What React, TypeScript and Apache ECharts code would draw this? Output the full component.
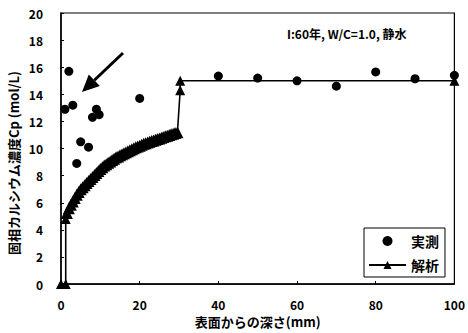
import React, { useEffect, useRef } from "react";
import * as echarts from "echarts";

// 実測: measured solid-phase calcium concentration vs. depth
const measuredDepth = [1, 2, 3, 4, 5, 7, 8, 9, 9.7, 20, 40, 50, 60, 70, 80, 90, 100];
const measuredCa = [12.9, 15.7, 13.2, 8.9, 10.5, 10.1, 12.3, 12.9, 12.5, 13.7, 15.35, 15.2, 15.0, 14.6, 15.65, 15.15, 15.4];

// 解析: analytical profile (fine depth steps through the leached zone)
const calcDepth = [
  0, 1.2, 1.2, 1.5, 2, 2.5, 3, 3.5, 4, 4.5, 5, 5.5, 6, 6.5, 7, 7.5, 8, 8.5, 9, 9.5, 10, 10.5, 11,
  11.5, 12, 12.5, 13, 13.5, 14, 14.5, 15, 15.5, 16, 16.5, 17, 17.5, 18, 18.5, 19, 19.5, 20, 20.5,
  21, 21.5, 22, 22.5, 23, 23.5, 24, 24.5, 25, 25.5, 26, 26.5, 27, 27.5, 28, 28.5, 29, 29.6, 30.3,
  30.3, 100,
];
const calcCa = [
  0, 0, 4.8, 5.25, 5.6, 5.85, 6.1, 6.35, 6.6, 6.8, 7.0, 7.15, 7.3, 7.45, 7.6, 7.75, 7.9, 8.05, 8.2,
  8.35, 8.5, 8.62, 8.75, 8.85, 8.95, 9.05, 9.15, 9.25, 9.35, 9.42, 9.5, 9.58, 9.65, 9.72, 9.8, 9.88,
  9.95, 10.02, 10.1, 10.15, 10.2, 10.28, 10.35, 10.4, 10.45, 10.5, 10.55, 10.6, 10.65, 10.7, 10.75,
  10.8, 10.85, 10.9, 10.95, 11.0, 11.05, 11.1, 11.15, 11.2, 14.3, 15.0, 15.0,
];

const yMin = 0;
const yMax = 20;
const yStep = 2;
const xMin = 0;
const xMax = 100;
const xStep = 20;

const FONT = "'Noto Sans CJK JP', 'Noto Sans', sans-serif";

export default function App() {
  const ref = useRef<HTMLDivElement>(null);

  useEffect(() => {
    if (!ref.current) return;
    const chart = echarts.init(ref.current, undefined, { renderer: "svg" });

    const measured = measuredDepth.map((d, i) => [d, measuredCa[i]]);
    const calc = calcDepth.map((d, i) => [d, calcCa[i]]);

    // arrow pointing at the near-surface measurements
    const tail = [123, 53];
    const tip = [82, 92];
    const dx = tip[0] - tail[0];
    const dy = tip[1] - tail[1];
    const len = Math.hypot(dx, dy);
    const ux = dx / len;
    const uy = dy / len;
    const headLen = 17;
    const headHalf = 8;
    const base = [tip[0] - headLen * ux, tip[1] - headLen * uy];
    const px = -uy;
    const py = ux;

    chart.setOption({
      animation: false,
      backgroundColor: "#fff",
      textStyle: { fontFamily: FONT },
      grid: {
        left: 61,
        right: 12,
        top: 13,
        bottom: 46,
        show: true,
        borderColor: "#000",
        borderWidth: 1.2,
      },
      xAxis: {
        type: "value",
        min: xMin,
        max: xMax,
        interval: xStep,
        name: "表面からの深さ(mm)",
        nameLocation: "middle",
        nameGap: 30,
        nameTextStyle: { color: "#000", fontSize: 13, fontWeight: "bold", fontFamily: FONT },
        axisLine: { lineStyle: { color: "#000", width: 1.5 } },
        axisTick: { inside: true, length: 3, lineStyle: { color: "#000" } },
        axisLabel: { color: "#000", fontSize: 12, fontWeight: "bold", margin: 14, fontFamily: FONT },
        splitLine: { show: false },
      },
      yAxis: {
        type: "value",
        min: yMin,
        max: yMax,
        interval: yStep,
        axisLine: { show: true, lineStyle: { color: "#000", width: 1.5 } },
        axisTick: { show: true, inside: true, length: 3, lineStyle: { color: "#000" } },
        axisLabel: { color: "#000", fontSize: 12, fontWeight: "bold", margin: 18, fontFamily: FONT },
        splitLine: { show: false },
      },
      legend: {
        orient: "vertical",
        left: 364,
        top: 228,
        padding: [6, 6, 5, 4],
        itemGap: 10,
        itemWidth: 37,
        itemHeight: 10,
        borderColor: "#000",
        borderWidth: 1,
        backgroundColor: "#fff",
        textStyle: { color: "#000", fontSize: 14, fontWeight: "bold", fontFamily: FONT },
        data: [
          { name: "実測", icon: "circle", itemStyle: { color: "#000", opacity: 1 } },
          { name: "解析" },
        ],
      },
      series: [
        {
          name: "解析",
          type: "line",
          data: calc,
          symbol: "triangle",
          // the closely spaced leached-zone points merge into a heavy band
          symbolSize: (v: number[]) => (v[0] > 1.2 && v[0] < 30 ? 12 : 10),
          showAllSymbol: true,
          lineStyle: { color: "#000", width: 1.6 },
          itemStyle: { color: "#000" },
          z: 2,
        },
        {
          name: "実測",
          type: "scatter",
          data: measured,
          symbol: "circle",
          symbolSize: 9,
          itemStyle: { color: "#000", opacity: 1 },
          z: 3,
        },
      ],
      graphic: [
        {
          type: "text",
          x: 13,
          y: 163,
          rotation: Math.PI / 2,
          style: {
            text: "固相カルシウム濃度Cp (mol/L)",
            fill: "#000",
            font: `bold 13px ${FONT}`,
            align: "center",
            verticalAlign: "middle",
          },
        },
        {
          type: "text",
          x: 287,
          y: 33,
          style: {
            text: "I:60年, W/C=1.0, 静水",
            fill: "#000",
            font: `bold 12px ${FONT}`,
            align: "left",
            verticalAlign: "middle",
          },
        },
        {
          type: "line",
          shape: { x1: tail[0], y1: tail[1], x2: base[0], y2: base[1] },
          style: { stroke: "#000", lineWidth: 3 },
        },
        {
          type: "polygon",
          shape: {
            points: [
              [tip[0], tip[1]],
              [base[0] + headHalf * px, base[1] + headHalf * py],
              [base[0] - headHalf * px, base[1] - headHalf * py],
            ],
          },
          style: { fill: "#000" },
        },
      ],
    });

    return () => chart.dispose();
  }, []);

  return (
    <div
      ref={ref}
      style={{ position: "fixed", left: 0, top: 0, width: 468, height: 333, background: "#fff" }}
    />
  );
}
